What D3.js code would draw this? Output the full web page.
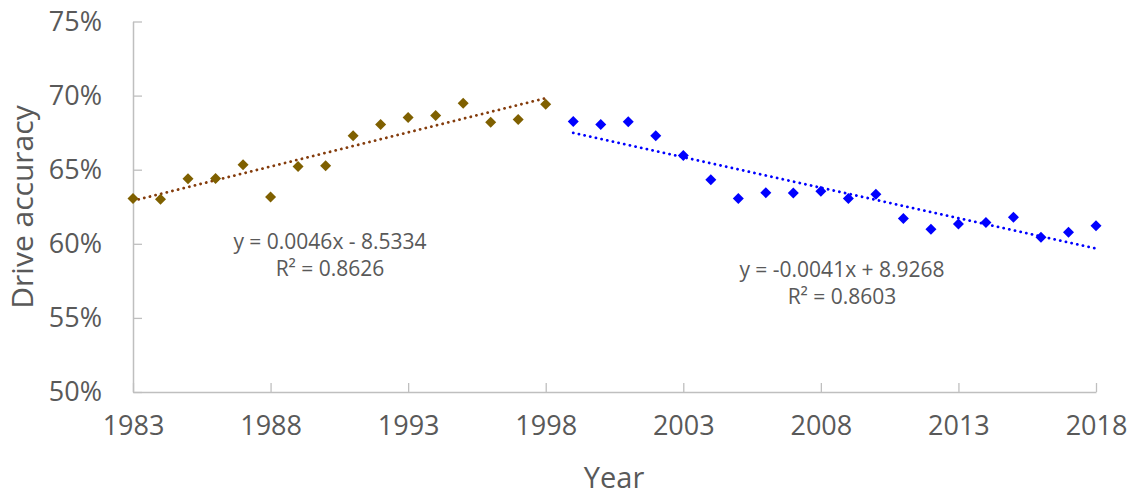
<!DOCTYPE html>
<html>
<head>
<meta charset="utf-8">
<script src="https://cdn.jsdelivr.net/npm/d3@7"></script>
<style>
  body { margin: 0; background: #fff; }
  svg text { font-family: "Open Sans", sans-serif; fill: #595959; }
</style>
</head>
<body>
<div id="chart"></div>
<script>
// drive accuracy per season
const years_early = [1983, 1984, 1985, 1986, 1987, 1988, 1989, 1990, 1991, 1992, 1993, 1994, 1995, 1996, 1997, 1998];
const acc_early = [0.6305, 0.6300, 0.6439, 0.6440, 0.6534, 0.6316, 0.6522, 0.6527, 0.6729, 0.6805, 0.6852, 0.6866, 0.6949, 0.6820, 0.6838, 0.6942];

const years_late = [1999, 2000, 2001, 2002, 2003, 2004, 2005, 2006, 2007, 2008, 2009, 2010, 2011, 2012, 2013, 2014, 2015, 2016, 2017, 2018];
const acc_late = [0.6825, 0.6805, 0.6823, 0.6729, 0.6596, 0.6433, 0.6305, 0.6345, 0.6343, 0.6354, 0.6305, 0.6334, 0.6170, 0.6098, 0.6134, 0.6143, 0.6179, 0.6044, 0.6078, 0.6121];

const x_ticks = [1983, 1988, 1993, 1998, 2003, 2008, 2013, 2018];
const y_ticks = [0.50, 0.55, 0.60, 0.65, 0.70, 0.75];

const eq_early = ["y = 0.0046x - 8.5334", "R² = 0.8626"];
const eq_late = ["y = -0.0041x + 8.9268", "R² = 0.8603"];

const width = 1135, height = 495;

let x = d3.scaleLinear().domain([1983, 2018]).range([133, 1096]);
let y = d3.scaleLinear().domain([0.50, 0.75]).range([392, 21.5]);

let svg = d3.select("#chart").append("svg")
  .attr("width", width)
  .attr("height", height);

// least squares fit, same as the spreadsheet trendline
function fit(xs, ys) {
  let mx = d3.mean(xs), my = d3.mean(ys);
  let num = d3.sum(xs, (v, i) => (v - mx) * (ys[i] - my));
  let den = d3.sum(xs, v => (v - mx) * (v - mx));
  let b = num / den;
  return v => my + b * (v - mx);
}

// axes
let xAxis = d3.axisBottom(x)
  .tickValues(x_ticks)
  .tickFormat(d3.format("d"))
  .tickSizeInner(-9)
  .tickSizeOuter(0)
  .tickPadding(24);

let yAxis = d3.axisLeft(y)
  .tickValues(y_ticks)
  .tickFormat(d3.format(".0%"))
  .tickSizeInner(-9)
  .tickSizeOuter(0)
  .tickPadding(31);

let gx = svg.append("g").attr("transform", `translate(0,${y(0.50)})`).call(xAxis);
let gy = svg.append("g").attr("transform", `translate(${x(1983)},0)`).call(yAxis);

[gx, gy].forEach(g => {
  g.select(".domain").attr("stroke", "#bfbfbf").attr("stroke-width", 1.5);
  g.selectAll(".tick line").attr("stroke", "#bfbfbf").attr("stroke-width", 1.3);
  g.selectAll(".tick text")
    .attr("fill", "#595959")
    .style("font-family", "'Open Sans', sans-serif")
    .style("font-size", "27px");
});

// axis titles
svg.append("text")
  .attr("x", 614)
  .attr("y", 488)
  .attr("text-anchor", "middle")
  .style("font-size", "29px")
  .text("Year");

svg.append("text")
  .attr("transform", "translate(33,207) rotate(-90)")
  .attr("text-anchor", "middle")
  .style("font-size", "30px")
  .text("Drive accuracy");

// trendlines
function trend(xs, ys, color) {
  let f = fit(xs, ys);
  let x0 = d3.min(xs), x1 = d3.max(xs);
  svg.append("line")
    .attr("x1", x(x0)).attr("y1", y(f(x0)))
    .attr("x2", x(x1)).attr("y2", y(f(x1)))
    .attr("stroke", color)
    .attr("stroke-width", 2.8)
    .attr("stroke-linecap", "round")
    .attr("stroke-dasharray", "0.1 5.7");
}

trend(years_early, acc_early, "#843c0c");
trend(years_late, acc_late, "#0000ff");

// diamond markers
let diamond = "M0,-5.5L5.5,0L0,5.5L-5.5,0Z";

function points(xs, ys, color) {
  svg.append("g").selectAll("path")
    .data(xs.map((v, i) => [v, ys[i]]))
    .join("path")
    .attr("d", diamond)
    .attr("transform", d => `translate(${x(d[0])},${y(d[1])})`)
    .attr("fill", color);
}

points(years_early, acc_early, "#7f6000");
points(years_late, acc_late, "#0000ff");

// equation labels
function label(lines, cx, y0) {
  let t = svg.append("text")
    .attr("text-anchor", "middle")
    .style("font-size", "21px");
  lines.forEach((s, i) => {
    t.append("tspan").attr("x", cx).attr("y", y0 + i * 27).text(s);
  });
}

label(eq_early, 330, 249);
label(eq_late, 842, 277);
</script>
</body>
</html>
